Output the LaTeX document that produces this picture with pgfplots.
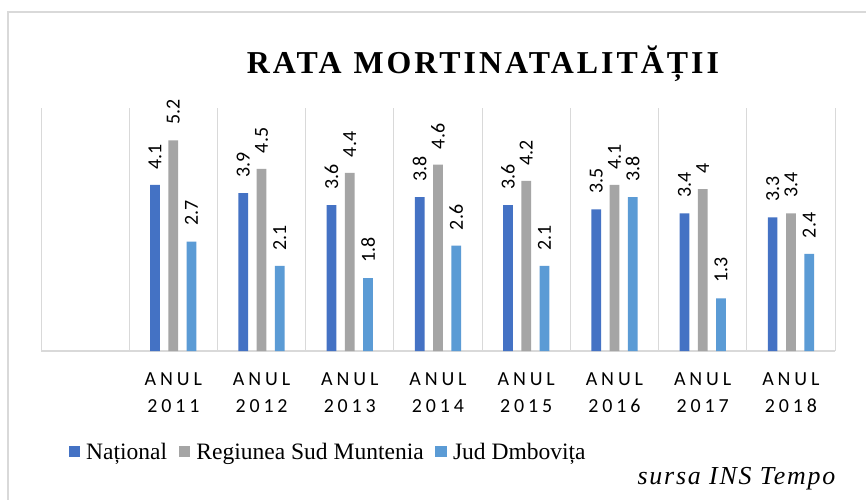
\documentclass[border=0pt]{standalone}
\usepackage{pgfplots}
\pgfplotsset{compat=1.18}
\usepackage{fontspec}
\setmainfont{Liberation Serif}
\newfontfamily\calib{Carlito}
\newfontfamily\calibsp[LetterSpace=19.5]{Carlito}
\newfontfamily\titlefont[LetterSpace=9.5]{Liberation Serif}
\newfontfamily\srcfont[LetterSpace=7]{Liberation Serif}
\definecolor{cA}{HTML}{4472C4}
\definecolor{cB}{HTML}{A5A5A5}
\definecolor{cC}{HTML}{5B9BD5}
\definecolor{cgrid}{HTML}{D9D9D9}
\pgfplotsset{sqlegend/.style={legend image code/.code={\fill[##1,draw=none] (0bp,-4.2bp) rectangle (11.7bp,6.8bp);}}}
\begin{document}
\begin{tikzpicture}
\useasboundingbox (0,0) rectangle (866bp,500bp);
\fill[white] (0,0) rectangle (866bp,500bp);
\draw[cgrid, line width=1.5bp] (8bp,0bp) -- (8bp,488bp) -- (866bp,488bp);
\node[anchor=base west, inner sep=0pt] at (246.7bp,426bp) {\titlefont\bfseries\fontsize{32}{32}\selectfont RATA\hspace{12bp}MORTINATALITĂȚII};
\node[anchor=base west, inner sep=0pt] at (637.3bp,15.7bp) {\srcfont\itshape\fontsize{26}{26}\selectfont sursa INS Tempo};
\begin{axis}[
  at={(41bp,149bp)}, anchor=south west,
  width=794bp, height=243bp, scale only axis,
  xmin=0, xmax=9, ymin=0, ymax=6,
  clip=false,
  axis x line*=bottom, axis y line=none,
  x axis line style={draw=cgrid, line width=1.2bp},
  xtick={1.5,2.5,3.5,4.5,5.5,6.5,7.5,8.5},
  xticklabels={{ANUL\\2011},{ANUL\\2012},{ANUL\\2013},{ANUL\\2014},{ANUL\\2015},{ANUL\\2016},{ANUL\\2017},{ANUL\\2018}},
  xticklabel style={align=center, font=\fontsize{20}{26.7}\calibsp, inner sep=0pt, yshift=-21.5bp, text=black},
  major tick length=0pt, minor tick length=0pt,
  minor xtick={0,1,2,3,4,5,6,7,8,9},
  xminorgrids=true,
  minor x grid style={draw=cgrid, line width=1bp},
  ybar, bar width=0.11,
  nodes near coords,
  /pgf/number format/assume math mode=true,
  every node near coord/.append style={rotate=90, anchor=west, font=\fontsize{20}{20}\calib, inner xsep=15.5bp, inner ysep=0pt, text=black},
  legend columns=3,
  legend style={at={(0.0344,-0.418)}, anchor=west, draw=none, fill=none, inner sep=0pt,
    font=\fontsize{23.6}{24}\selectfont,
    nodes={inner sep=0pt},
    /tikz/every odd column/.append style={column sep=6bp},
    /tikz/every even column/.append style={column sep=11.6bp}},
]
\addplot[fill=cA, draw=none, bar shift=-0.207, sqlegend] coordinates {(1.5,4.1) (2.5,3.9) (3.5,3.6) (4.5,3.8) (5.5,3.6) (6.5,3.5) (7.5,3.4) (8.5,3.3)};
\addplot[fill=cB, draw=none, bar shift=0, sqlegend] coordinates {(1.5,5.2) (2.5,4.5) (3.5,4.4) (4.5,4.6) (5.5,4.2) (6.5,4.1) (7.5,4) (8.5,3.4)};
\addplot[fill=cC, draw=none, bar shift=0.207, sqlegend] coordinates {(1.5,2.7) (2.5,2.1) (3.5,1.8) (4.5,2.6) (5.5,2.1) (6.5,3.8) (7.5,1.3) (8.5,2.4)};
\legend{Național, Regiunea Sud Muntenia, Jud Dmbovița}
\end{axis}
\end{tikzpicture}
\end{document}
